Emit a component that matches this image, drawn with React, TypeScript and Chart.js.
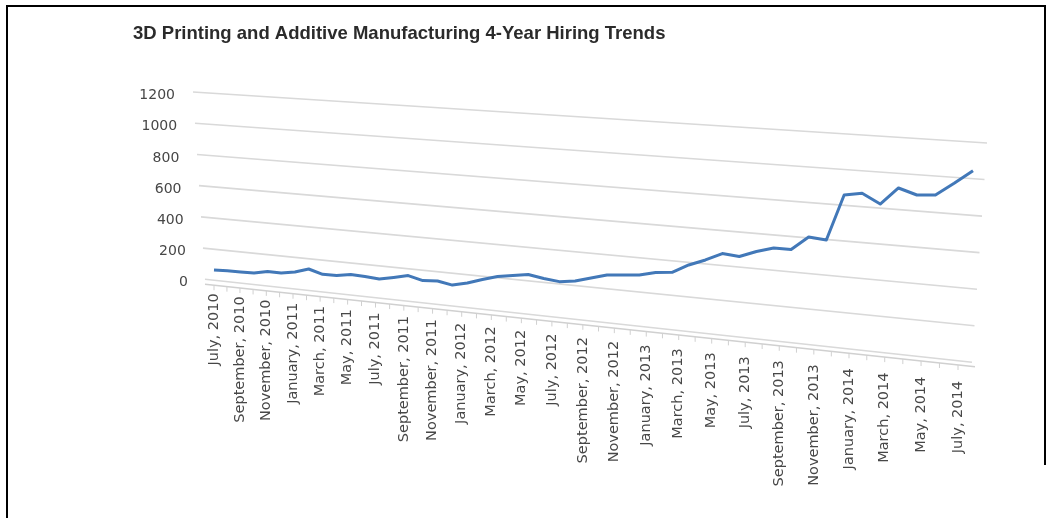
import React, { useEffect, useRef } from "react";
import {
  Chart,
  CategoryScale,
  LinearScale,
  LineController,
  LineElement,
  PointElement,
} from "chart.js";

// ---------------- data ----------------
const TITLE = "3D Printing and Additive Manufacturing 4-Year Hiring Trends";

const CATEGORIES = [
  "July, 2010", "August, 2010", "September, 2010", "October, 2010", "November, 2010", "December, 2010",
  "January, 2011", "February, 2011", "March, 2011", "April, 2011", "May, 2011", "June, 2011",
  "July, 2011", "August, 2011", "September, 2011", "October, 2011", "November, 2011", "December, 2011",
  "January, 2012", "February, 2012", "March, 2012", "April, 2012", "May, 2012", "June, 2012",
  "July, 2012", "August, 2012", "September, 2012", "October, 2012", "November, 2012", "December, 2012",
  "January, 2013", "February, 2013", "March, 2013", "April, 2013", "May, 2013", "June, 2013",
  "July, 2013", "August, 2013", "September, 2013", "October, 2013", "November, 2013", "December, 2013",
  "January, 2014", "February, 2014", "March, 2014", "April, 2014", "May, 2014", "June, 2014",
  "July, 2014",
];

const HIRES = [
  60, 55, 47, 40, 50, 40, 47, 66, 32, 24,
  31, 18, 2, 12, 24, -8, -11, -37, -24, -1,
  18, 24, 31, 5, -15, -11, 8, 28, 28, 28,
  44, 45, 92, 124, 165, 146, 178, 200, 191, 271,
  252, 540, 551, 482, 585, 540, 540, 615, 696,
];

const Y_TICKS = [0, 200, 400, 600, 800, 1000, 1200];
const X_LABEL_STEP = 2;

// ---------------- styling ----------------
const W = 1057;
const H = 518;
const LINE_COLOR = "#4278b8";
const GRID_COLOR = "#d9d9d9";
const AXIS_COLOR = "#d0d0d0";
const TEXT_COLOR = "#474747";
const DEPTH = 0.835; // perspective foreshortening of the category axis

function warp(d: number) {
  return (DEPTH * d) / (1 - (1 - DEPTH) * d);
}

class PerspectiveCategoryScale extends CategoryScale {
  static id = "perspectiveCategory";
  static defaults = CategoryScale.defaults;
  getPixelForDecimal(decimal: number) {
    return super.getPixelForDecimal(warp(decimal));
  }
  getDecimalForPixel(pixel: number) {
    const u = super.getDecimalForPixel(pixel);
    return u / (DEPTH + (1 - DEPTH) * u);
  }
}

Chart.register(
  CategoryScale,
  LinearScale,
  LineController,
  LineElement,
  PointElement,
  PerspectiveCategoryScale as any
);

const perspectivePlugin = {
  id: "perspectiveDecor",
  beforeDatasetsDraw(chart: any) {
    const { ctx, chartArea: ca, scales } = chart;
    const ys = scales.y;
    const xs = scales.x;
    const yMax = Y_TICKS[Y_TICKS.length - 1];
    const y0 = ys.getPixelForValue(0);
    ctx.save();
    // back-wall gridlines, receding in perspective
    ctx.strokeStyle = GRID_COLOR;
    ctx.lineWidth = 1.6;
    for (const v of Y_TICKS) {
      const f = v / yMax;
      const yl = ys.getPixelForValue(v);
      const xl = ca.left - 9 - f * 12;
      const xr = ca.right - 1 + f * 15;
      const yr = yl + 83 - f * 32;
      ctx.beginPath();
      ctx.moveTo(xl, yl);
      ctx.lineTo(xr, yr);
      ctx.stroke();
    }
    // front floor edge (category axis) with month ticks
    const ax0 = ca.left - 9;
    const ax1 = ca.right + 2;
    const slope = 82.5 / (ax1 - ax0);
    const axisY = (x: number) => y0 + 5 + slope * (x - ax0);
    ctx.strokeStyle = AXIS_COLOR;
    ctx.lineWidth = 1.6;
    ctx.beginPath();
    ctx.moveTo(ax0, axisY(ax0));
    ctx.lineTo(ax1, axisY(ax1));
    ctx.stroke();
    ctx.lineWidth = 1;
    const n = CATEGORIES.length - 1;
    for (let i = 0; i <= n; i++) {
      const t = i / n;
      const tx = xs.getPixelForValue(i) - 15 * t;
      const ty = axisY(tx);
      ctx.beginPath();
      ctx.moveTo(tx, ty);
      ctx.lineTo(tx, ty + 5);
      ctx.stroke();
    }
    ctx.restore();
  },
  afterDraw(chart: any) {
    const { ctx, chartArea: ca, scales } = chart;
    const ys = scales.y;
    const xs = scales.x;
    const yMax = Y_TICKS[Y_TICKS.length - 1];
    const y0 = ys.getPixelForValue(0);
    ctx.save();
    // title
    ctx.fillStyle = "#2b2b2b";
    ctx.font = "bold 18.5px 'Liberation Sans', Arial, sans-serif";
    ctx.textAlign = "left";
    ctx.textBaseline = "alphabetic";
    ctx.fillText(TITLE, 133, 39);

    // value axis labels
    ctx.fillStyle = TEXT_COLOR;
    ctx.font = "14px 'DejaVu Sans', sans-serif";
    ctx.textAlign = "right";
    ctx.textBaseline = "middle";
    for (const v of Y_TICKS) {
      const f = v / yMax;
      const yl = ys.getPixelForValue(v);
      ctx.fillText(String(v), ca.left - 39 + (1 - f) * 13, yl + 3.5);
    }

    // category labels, rotated, following the slanted floor edge
    const ax0 = ca.left - 9;
    const ax1 = ca.right + 2;
    const slope = 82.5 / (ax1 - ax0);
    const axisY = (x: number) => y0 + 5 + slope * (x - ax0);
    ctx.font = "14.5px 'DejaVu Sans', sans-serif";
    const n = CATEGORIES.length - 1;
    for (let i = 0; i <= n; i += X_LABEL_STEP) {
      const t = i / n;
      const lx = xs.getPixelForValue(i) - 15 * t;
      const top = axisY(lx) + 8 + 8 * t;
      ctx.save();
      ctx.translate(lx, top);
      ctx.rotate(-Math.PI / 2);
      ctx.textAlign = "right";
      ctx.textBaseline = "middle";
      ctx.fillText(CATEGORIES[i], 0, 0);
      ctx.restore();
    }

    // frame
    ctx.strokeStyle = "#000";
    ctx.lineWidth = 2;
    ctx.beginPath();
    ctx.moveTo(7, H);
    ctx.lineTo(7, 6);
    ctx.lineTo(1045, 6);
    ctx.lineTo(1045, 465);
    ctx.stroke();
    ctx.restore();
  },
};

export default function App() {
  const ref = useRef<HTMLCanvasElement | null>(null);
  useEffect(() => {
    if (!ref.current) return;
    const chart = new Chart(ref.current, {
      type: "line",
      data: {
        labels: CATEGORIES,
        datasets: [
          {
            data: HIRES,
            borderColor: LINE_COLOR,
            borderWidth: 3,
            pointRadius: 0,
            tension: 0,
            fill: false,
            clip: false as any,
            borderJoinStyle: "round",
          },
        ],
      },
      options: {
        animation: false,
        responsive: false,
        layout: { padding: { left: 214, right: W - 973, top: 92, bottom: H - 279.3 } },
        scales: {
          x: { type: "perspectiveCategory" as any, display: false, offset: false },
          y: { type: "linear", min: 0, max: 1200, display: false },
        },
        plugins: {
          legend: { display: false },
          title: { display: false },
          tooltip: { enabled: false },
        } as any,
      },
      plugins: [perspectivePlugin],
    });
    return () => chart.destroy();
  }, []);
  return (
    <div style={{ position: "fixed", left: 0, top: 0, width: W, height: H, background: "#fff" }}>
      <canvas ref={ref} width={W} height={H} style={{ display: "block" }} />
    </div>
  );
}
